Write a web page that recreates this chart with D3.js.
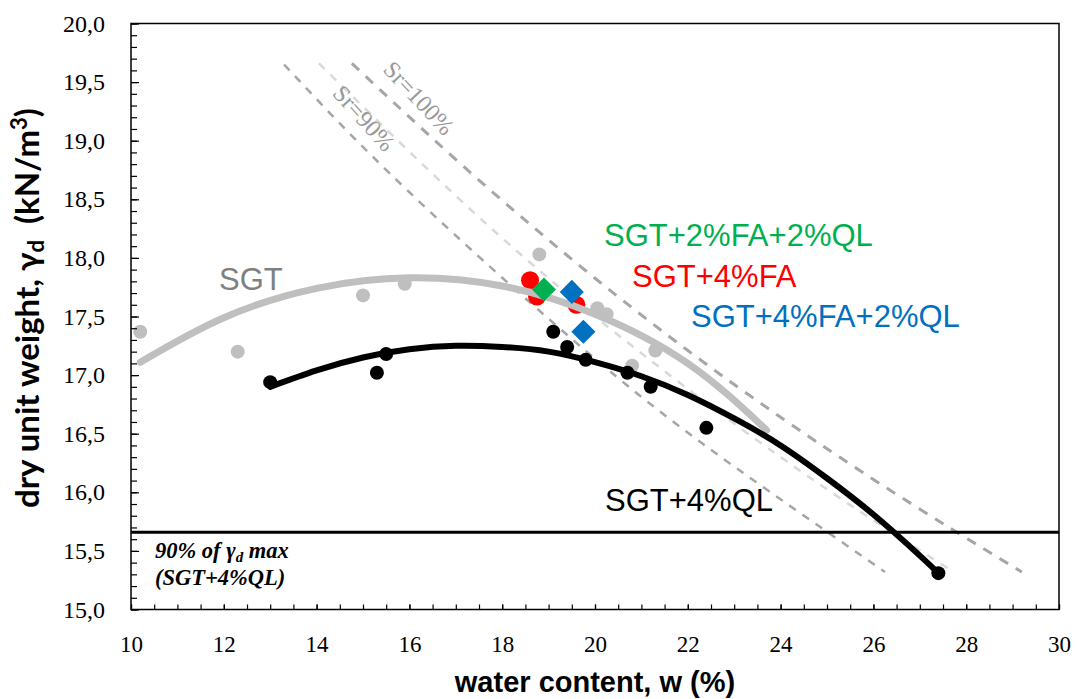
<!DOCTYPE html>
<html>
<head>
<meta charset="utf-8">
<script src="https://cdn.jsdelivr.net/npm/d3@7"></script>
<style>
  html, body { margin: 0; padding: 0; background: #fff; }
  svg { display: block; }
</style>
</head>
<body>
<svg id="chart" width="1077" height="699"></svg>
<script>
// Compaction results: water content w (%) vs dry unit weight γd (kN/m³)

// SGT (untreated soil) test points
const sgtW  = [10.2, 12.3, 15.0, 15.9, 18.8, 20.05, 20.25, 20.8, 21.3];
const sgtGd = [17.37, 17.20, 17.68, 17.78, 18.03, 17.57, 17.52, 17.08, 17.21];
// SGT trend curve (points along the curve)
const sgtFitW  = [10.2, 12, 14, 16, 18, 20, 22, 23.7];
const sgtFitGd = [17.11, 17.49, 17.74, 17.83, 17.76, 17.52, 17.10, 16.53];

// SGT+4%QL test points
const qlW  = [13.0, 15.3, 15.5, 19.1, 19.4, 19.8, 20.7, 21.2, 22.4, 27.4];
const qlGd = [16.94, 17.02, 17.18, 17.37, 17.24, 17.13, 17.02, 16.90, 16.55, 15.31];
// SGT+4%QL trend curve
const qlFitW  = [13, 14, 15, 16, 17, 18, 19, 20, 21, 22, 23, 24, 25, 26, 27, 27.4];
const qlFitGd = [16.90, 17.04, 17.15, 17.22, 17.25, 17.24, 17.20, 17.11, 16.99, 16.83, 16.63, 16.40, 16.12, 15.81, 15.46, 15.31];

// SGT+4%FA
const faW  = [18.6, 18.75, 19.6];
const faGd = [17.81, 17.67, 17.60];
// SGT+2%FA+2%QL
const faqlW  = [18.9];
const faqlGd = [17.73];
// SGT+4%FA+2%QL
const fa4qlW  = [19.5, 19.75];
const fa4qlGd = [17.71, 17.37];

// Saturation lines
const sr90W   = [13.3, 16, 20, 23, 26.25];
const sr90Gd  = [19.65, 18.56, 17.14, 16.22, 15.32];
const srMidW  = [14.05, 17, 20, 24, 27.65];
const srMidGd = [19.66, 18.53, 17.50, 16.30, 15.34];
const sr100W  = [14.76, 18, 22, 26, 29.2];
const sr100Gd = [19.66, 18.49, 17.21, 16.11, 15.32];

// 90% of maximum dry unit weight (SGT+4%QL)
const limit90 = 15.66;

// Axis ticks
const xMajor = [10, 12, 14, 16, 18, 20, 22, 24, 26, 28, 30];
const yMajor = [15.0, 15.5, 16.0, 16.5, 17.0, 17.5, 18.0, 18.5, 19.0, 19.5, 20.0];

const svg = d3.select("#chart");
const plotL = 131, plotR = 1059, plotT = 23.5, plotB = 609.5;
const x = d3.scaleLinear().domain([10, 30]).range([plotL, plotR]);
const y = d3.scaleLinear().domain([15, 20]).range([plotB, plotT]);

const commaFmt = d3.formatLocale({decimal: ",", thousands: ".", grouping: [3], currency: ["", ""]}).format(".1f");
const zip = (a, b) => a.map((v, i) => [v, b[i]]);
const smooth = d3.line().x(d => x(d[0])).y(d => y(d[1])).curve(d3.curveNatural);

// ---- saturation lines ----
const gSr = svg.append("g");
gSr.append("path").attr("d", smooth(zip(sr90W, sr90Gd)))
  .attr("fill", "none").attr("stroke", "#A6A6A6").attr("stroke-width", 2.5)
  .attr("stroke-dasharray", "8,8");
gSr.append("path").attr("d", smooth(zip(srMidW, srMidGd)))
  .attr("fill", "none").attr("stroke", "#D9D9D9").attr("stroke-width", 2.5)
  .attr("stroke-dasharray", "8,8");
gSr.append("path").attr("d", smooth(zip(sr100W, sr100Gd)))
  .attr("fill", "none").attr("stroke", "#A6A6A6").attr("stroke-width", 3)
  .attr("stroke-dasharray", "10,9");

gSr.append("text").attr("transform", "translate(362,120) rotate(48)")
  .attr("text-anchor", "middle").attr("dominant-baseline", "middle")
  .attr("font-family", "Liberation Serif, serif").attr("font-size", 24)
  .attr("fill", "#999999").text("Sr=90%");
gSr.append("text").attr("transform", "translate(417,100) rotate(47)")
  .attr("text-anchor", "middle").attr("dominant-baseline", "middle")
  .attr("font-family", "Liberation Serif, serif").attr("font-size", 24)
  .attr("fill", "#999999").text("Sr=100%");

// ---- 90% line ----
svg.append("line").attr("x1", x(10)).attr("x2", x(30))
  .attr("y1", y(limit90)).attr("y2", y(limit90))
  .attr("stroke", "#000").attr("stroke-width", 3);
const note = svg.append("text").attr("font-family", "Liberation Serif, serif")
  .attr("font-size", 22.5).attr("font-weight", "bold").attr("font-style", "italic");
note.append("tspan").attr("x", 155).attr("y", 558).text("90% of ");
note.append("tspan").text("γ");
note.append("tspan").attr("font-size", 15).attr("dy", 4).text("d");
note.append("tspan").attr("dy", -4).text(" max");
svg.append("text").attr("x", 155).attr("y", 585)
  .attr("font-family", "Liberation Serif, serif").attr("font-size", 22.5)
  .attr("font-weight", "bold").attr("font-style", "italic").text("(SGT+4%QL)");

// ---- data points ----
svg.append("g").selectAll("circle").data(zip(sgtW, sgtGd)).join("circle")
  .attr("cx", d => x(d[0])).attr("cy", d => y(d[1])).attr("r", 7).attr("fill", "#BFBFBF");
svg.append("g").selectAll("circle").data(zip(qlW, qlGd)).join("circle")
  .attr("cx", d => x(d[0])).attr("cy", d => y(d[1])).attr("r", 7).attr("fill", "#000");
svg.append("g").selectAll("circle").data(zip(faW, faGd)).join("circle")
  .attr("cx", d => x(d[0])).attr("cy", d => y(d[1])).attr("r", 9).attr("fill", "#FF0000");

// ---- trend curves ----
svg.append("path").attr("d", smooth(zip(sgtFitW, sgtFitGd)))
  .attr("fill", "none").attr("stroke", "#BFBFBF").attr("stroke-width", 7)
  .attr("stroke-linecap", "round");
svg.append("path").attr("d", smooth(zip(qlFitW, qlFitGd)))
  .attr("fill", "none").attr("stroke", "#000").attr("stroke-width", 6)
  .attr("stroke-linecap", "round");

// diamonds
const diamond = d3.symbol().type(d3.symbolSquare).size(290);
svg.append("g").selectAll("path").data(zip(faqlW, faqlGd)).join("path")
  .attr("d", diamond).attr("fill", "#00B050")
  .attr("transform", d => `translate(${x(d[0])},${y(d[1])}) rotate(45)`);
svg.append("g").selectAll("path").data(zip(fa4qlW, fa4qlGd)).join("path")
  .attr("d", diamond).attr("fill", "#0070C0")
  .attr("transform", d => `translate(${x(d[0])},${y(d[1])}) rotate(45)`);

// ---- series labels ----
const lab = (tx, ty, txt, col) => svg.append("text").attr("x", tx).attr("y", ty)
  .attr("font-family", "Liberation Sans, Arial, sans-serif").attr("font-size", 31)
  .attr("fill", col).text(txt);
lab(219, 290, "SGT", "#808080");
lab(604, 246, "SGT+2%FA+2%QL", "#00B050");
lab(632, 287, "SGT+4%FA", "#FF0000");
lab(691, 327, "SGT+4%FA+2%QL", "#0070C0");
lab(605, 511, "SGT+4%QL", "#000");

// ---- axes ----
const gx = svg.append("g").attr("transform", `translate(0,${plotB})`);
gx.call(d3.axisBottom(x).tickValues(d3.range(10, 30.01, 0.5)).tickSize(-5).tickFormat(""));
const gxl = svg.append("g").attr("transform", `translate(0,${plotB})`);
gxl.call(d3.axisBottom(x).tickValues(xMajor).tickSize(-5).tickPadding(26).tickFormat(d3.format("d")));
gx.select(".domain").remove();
gxl.select(".domain").remove();
gxl.selectAll("text").attr("font-family", "Liberation Serif, serif").attr("font-size", 23).attr("fill", "#000");

const gy = svg.append("g").attr("transform", `translate(${plotL},0)`);
gy.call(d3.axisLeft(y).tickValues(d3.range(15, 20.001, 0.1)).tickSize(-6).tickFormat(""));
const gyl = svg.append("g").attr("transform", `translate(${plotL},0)`);
gyl.call(d3.axisLeft(y).tickValues(yMajor).tickSize(-8).tickPadding(26).tickFormat(commaFmt));
gy.select(".domain").remove();
gyl.select(".domain").remove();
gyl.selectAll("text").attr("font-family", "Liberation Serif, serif").attr("font-size", 24).attr("fill", "#000");
svg.selectAll(".tick line").attr("stroke", "#000").attr("stroke-width", 1.2);

// frame
svg.append("rect").attr("x", plotL).attr("y", plotT).attr("width", plotR - plotL).attr("height", plotB - plotT)
  .attr("fill", "none").attr("stroke", "#000").attr("stroke-width", 1.5);

// axis titles
svg.append("text").attr("x", (plotL + plotR) / 2).attr("y", 692).attr("text-anchor", "middle")
  .attr("font-family", "Liberation Sans, Arial, sans-serif").attr("font-weight", "bold")
  .attr("font-size", 29).text("water content, w (%)");

const yt = svg.append("text").attr("transform", "translate(39,308) rotate(-90)")
  .attr("text-anchor", "middle").attr("font-family", "Lato, sans-serif")
  .attr("font-weight", "bold").attr("font-size", 33);
yt.append("tspan").text("dry unit weight, γ");
yt.append("tspan").attr("font-size", 22).attr("dy", 5).text("d");
yt.append("tspan").attr("dy", -5).text("\u00A0 (kN/m");
yt.append("tspan").attr("font-size", 22).attr("dy", -12).text("3");
yt.append("tspan").attr("dy", 12).text(")");
</script>
</body>
</html>
